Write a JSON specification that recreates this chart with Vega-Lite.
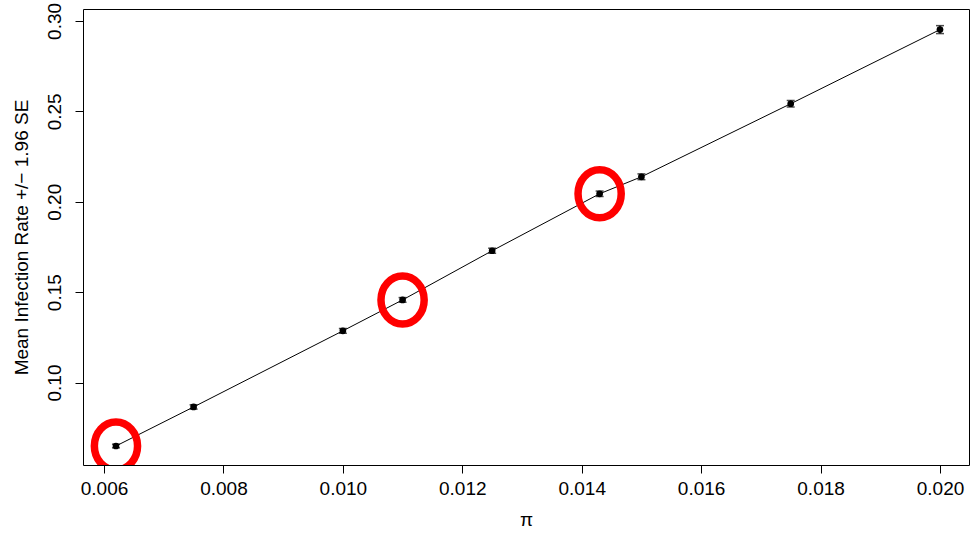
{
  "$schema": "https://vega.github.io/schema/vega-lite/v6.json",
  "width": 886,
  "height": 456,
  "autosize": {"type": "none"},
  "padding": {"left": 83, "top": 9, "right": 1, "bottom": 74},
  "background": "white",
  "config": {
    "view": {"stroke": "black", "strokeWidth": 1},
    "font": "Liberation Sans",
    "axis": {
      "domain": false,
      "grid": false,
      "tickColor": "black",
      "tickSize": 8,
      "tickWidth": 1,
      "labelColor": "black",
      "labelFont": "Liberation Sans",
      "labelFontSize": 19,
      "titleFont": "Liberation Sans",
      "titleFontSize": 19,
      "titleFontWeight": "normal",
      "titleColor": "black"
    }
  },
  "data": {
    "values": [
      {"pi": 0.0062, "mean": 0.0649, "lo": 0.0639, "hi": 0.0659, "circled": true},
      {"pi": 0.0075, "mean": 0.0865, "lo": 0.0853, "hi": 0.0877, "circled": false},
      {"pi": 0.0100, "mean": 0.1286, "lo": 0.1273, "hi": 0.1299, "circled": false},
      {"pi": 0.0110, "mean": 0.1457, "lo": 0.1444, "hi": 0.1470, "circled": true},
      {"pi": 0.0125, "mean": 0.1729, "lo": 0.1715, "hi": 0.1743, "circled": false},
      {"pi": 0.0143, "mean": 0.2044, "lo": 0.2029, "hi": 0.2059, "circled": true},
      {"pi": 0.0150, "mean": 0.2138, "lo": 0.2122, "hi": 0.2154, "circled": false},
      {"pi": 0.0175, "mean": 0.2542, "lo": 0.2524, "hi": 0.2560, "circled": false},
      {"pi": 0.0200, "mean": 0.2952, "lo": 0.2930, "hi": 0.2974, "circled": false}
    ]
  },
  "encoding": {
    "x": {
      "field": "pi",
      "type": "quantitative",
      "scale": {"domain": [0.005648, 0.020486], "nice": false, "zero": false},
      "axis": {
        "title": "π",
        "values": [0.006, 0.008, 0.010, 0.012, 0.014, 0.016, 0.018, 0.020],
        "format": ".3f",
        "labelPadding": 6,
        "titlePadding": 12
      }
    }
  },
  "layer": [
    {
      "mark": {"type": "line", "color": "black", "strokeWidth": 1},
      "encoding": {
        "y": {
          "field": "mean",
          "type": "quantitative",
          "scale": {"domain": [0.0544, 0.3066], "nice": false, "zero": false},
          "axis": {
            "title": "Mean Infection Rate +/− 1.96 SE",
            "values": [0.10, 0.15, 0.20, 0.25, 0.30],
            "format": ".2f",
            "labelAngle": -90,
            "labelAlign": "center",
            "labelBaseline": "bottom",
            "labelPadding": 11,
            "titlePadding": 14
          }
        }
      }
    },
    {
      "mark": {"type": "rule", "color": "black", "strokeWidth": 1.5},
      "encoding": {
        "y": {"field": "lo", "type": "quantitative"},
        "y2": {"field": "hi"}
      }
    },
    {
      "mark": {"type": "tick", "orient": "horizontal", "color": "black", "size": 8, "thickness": 1.5},
      "encoding": {"y": {"field": "lo", "type": "quantitative"}}
    },
    {
      "mark": {"type": "tick", "orient": "horizontal", "color": "black", "size": 8, "thickness": 1.5},
      "encoding": {"y": {"field": "hi", "type": "quantitative"}}
    },
    {
      "mark": {"type": "point", "filled": true, "color": "black", "size": 45, "opacity": 1},
      "encoding": {"y": {"field": "mean", "type": "quantitative"}}
    },
    {
      "transform": [{"filter": "datum.circled"}],
      "mark": {
        "type": "point",
        "filled": false,
        "clip": true,
        "color": "#ff0000",
        "strokeWidth": 7.5,
        "opacity": 1,
        "size": 2304,
        "shape": "M -0.9,0 A 0.9,1 0 1,1 0.9,0 A 0.9,1 0 1,1 -0.9,0 Z"
      },
      "encoding": {"y": {"field": "mean", "type": "quantitative"}}
    }
  ]
}
